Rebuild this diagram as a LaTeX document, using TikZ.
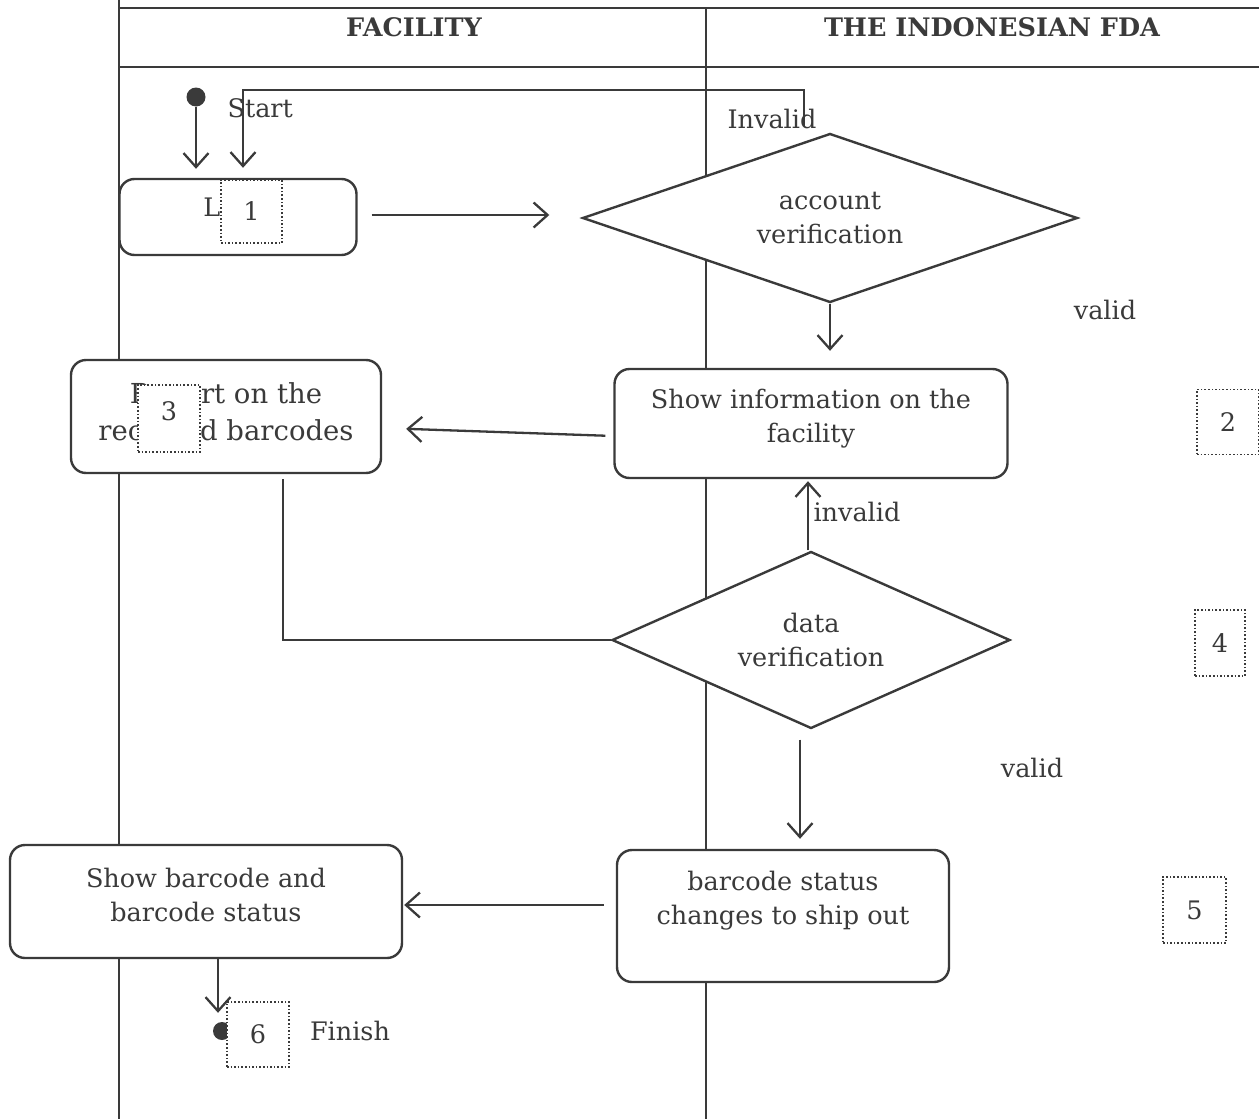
\documentclass[tikz,border=0pt]{standalone}
\usepackage{fontspec}
\setmainfont{DejaVu Serif}
\usetikzlibrary{shapes.geometric,arrows.meta}
\definecolor{ink}{HTML}{3A3A3A}
\begin{document}
\begin{tikzpicture}[x=1pt,y=-1pt,
  every node/.style={text=ink,font=\fontsize{25.5}{34}\selectfont},
  frame/.style={draw=ink,line width=1.4pt},
  actbox/.style={draw=ink,line width=2.4pt,rounded corners=15pt,fill=white,align=center,inner sep=0pt},
  decide/.style={draw=ink,line width=2.4pt,diamond,shape aspect=3,inner sep=0pt,fill=white,align=center},
  numbox/.style={draw=ink,line width=1.7pt,dash pattern=on 1.6pt off 2pt,fill=white,inner sep=0pt},
  flow/.style={draw=ink,line width=2.3pt,-{Straight Barb[length=14pt,width=25pt]}},
  plain/.style={draw=ink,line width=2.3pt},
  dot/.style={circle,fill=ink,inner sep=0pt,minimum size=19pt},
  hdr/.style={font=\fontsize{25.5}{30}\selectfont\bfseries}
]
\useasboundingbox (0,0) rectangle (1259,1119);
% frame
\draw[frame] (119,0) -- (119,1119);
\draw[frame] (706,8) -- (706,1119);
\draw[frame] (119,8) -- (1259,8);
\draw[frame] (119,67) -- (1259,67);
\node[hdr] (h1) at (414,27) {FACILITY};
\node[hdr] (h2) at (992,27) {THE INDONESIAN FDA};

% nodes
\node[dot] (start) at (196,97) {};
\node[anchor=west] (startlbl) at (224,108) {Start};
\node[actbox,minimum width=237pt,minimum height=76pt] (login) at (238,217) {};
\node (logintxt) at (240,210) {Login};
\node[numbox,minimum width=61pt,minimum height=63pt] (n1) at (251.5,211.5) {1};

\node[decide,minimum width=495pt,minimum height=169pt] (acc) at (830,218) {account\\verification};
\node (invlbl) at (772,119) {Invalid};
\node (valid1) at (1105,310) {valid};

\node[actbox,minimum width=393pt,minimum height=109pt] (info) at (811,423.5) {};
\node[align=center] (infotxt) at (811,419) {Show information on the\\facility};
\node[numbox,minimum width=62pt,minimum height=65pt] (n2) at (1228,422) {2};

\node[actbox,minimum width=310pt,minimum height=113pt] (report) at (226,416.5) {};
\node[align=center,font=\fontsize{27.5}{37}\selectfont] (reporttxt) at (226,412) {Report on the\\received barcodes};
\node[numbox,minimum width=62pt,minimum height=67pt] (n3) at (169,418.5) {};
\node (n3t) at (169,411) {3};

\node[decide,minimum width=398pt,minimum height=177pt] (data) at (811,640) {data\\verification};
\node[anchor=west] (invlbl2) at (810,512) {invalid};
\node[numbox,minimum width=50pt,minimum height=66pt] (n4) at (1220,643) {4};
\node (valid2) at (1032,768) {valid};

\node[actbox,minimum width=332pt,minimum height=132pt] (ship) at (783,916) {};
\node[align=center] (shiptxt) at (783,901) {barcode status\\changes to ship out};
\node[numbox,minimum width=63pt,minimum height=66pt] (n5) at (1194.5,910) {5};

\node[actbox,minimum width=392pt,minimum height=113pt] (show) at (206,901.5) {};
\node[align=center] (showtxt) at (206,895) {Show barcode and\\barcode status};

\node[dot,minimum size=18pt] (finish) at (222,1031) {};
\node[numbox,minimum width=62pt,minimum height=65pt] (n6) at (258,1034.5) {6};
\node (finlbl) at (350,1031) {Finish};

% connectors
\draw[flow,shorten >=9pt] (start) -- (start |- login.north);
\coordinate (fbA) at (804,126);
\coordinate (fbB) at (804,90);
\coordinate (fbC) at (243,90);
\draw[flow,shorten >=10pt] (fbA) -- (fbB) -- (fbC) -- (fbC |- login.north);
\draw[flow,shorten <=14pt,shorten >=32pt] (login.east |- 0,215) -- (acc.west |- 0,215);
\draw[flow,shorten >=17pt] (acc.south) -- (acc.south |- info.north);
\draw[flow,shorten <=8pt,shorten >=24pt] (info.west |- 0,436) -- (report.east |- 0,428);
\draw[plain] ([xshift=57pt,yshift=-5pt]report.south) -- ([xshift=57pt]report.south |- data.west) -- (data.west);
\draw[flow,shorten >=2pt] ([xshift=-3pt]data.north) -- ([xshift=-3pt]data.north |- info.south);
\draw[flow,shorten <=10pt,shorten >=10pt] ([xshift=-11pt]data.south) -- ([xshift=-11pt]data.south |- ship.north);
\draw[flow,shorten <=12pt,shorten >=1pt] (ship.west |- 0,905) -- (show.east |- 0,905);
\draw[flow,shorten >=9pt] ([xshift=12pt]show.south) -- ([xshift=12pt]show.south |- finish.north);
\end{tikzpicture}
\end{document}
